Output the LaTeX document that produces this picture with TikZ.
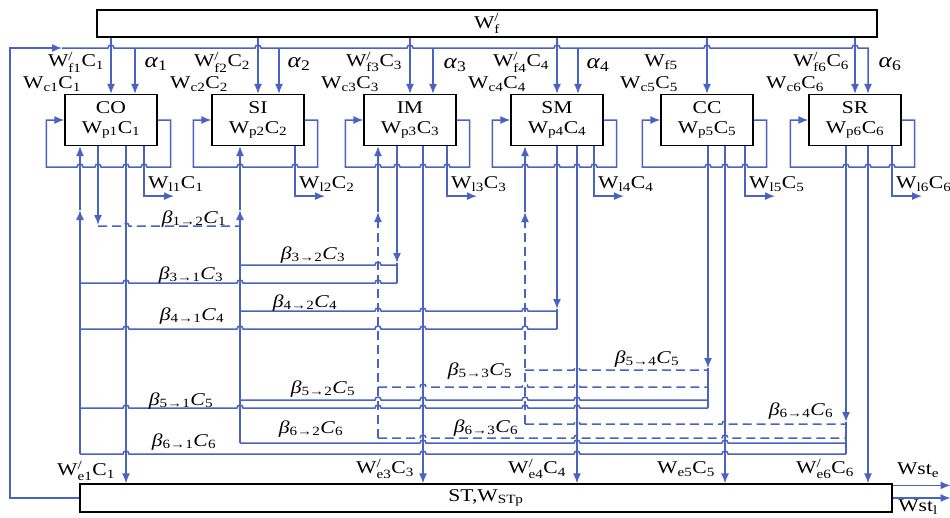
\documentclass[tikz,border=0pt]{standalone}
\usepackage{amsmath}
\usepackage{fontspec}
\setmainfont{Liberation Serif}[FakeStretch=1.2]
\usetikzlibrary{arrows.meta,positioning}
\definecolor{lnblue}{HTML}{4A62C2}
\newcommand{\Wp}[2]{W$_{\text{#1}}^{\text{/}}$C$_{\text{#2}}$}
\newcommand{\Wn}[2]{W$_{\text{#1}}$C$_{\text{#2}}$}
\newcommand{\Bt}[3]{\textit{β}$_{\text{#1→#2}}$\textit{C}$_{\text{#3}}$}
\newcommand{\Al}[1]{\textit{α}$_{\text{#1}}$}

\begin{document}
\begin{tikzpicture}[x=1pt,y=-1pt,
  box/.style={draw,line width=1.2pt,minimum width=92pt,minimum height=51pt,align=center,inner sep=1pt,font=\fontsize{18}{20}\selectfont},
  bar/.style={draw,line width=1.2pt,inner sep=0pt,font=\fontsize{18}{20}\selectfont},
  ln/.style={draw=lnblue,line width=1.5pt},
  arr/.style={ln,-{Latex[length=10pt,width=8pt]}},
  dsh/.style={ln,dash pattern=on 9pt off 5pt},
  lab/.style={inner sep=1pt,font=\fontsize{18}{20}\selectfont},
  alab/.style={inner sep=1pt,font=\fontsize{21}{23}\selectfont},
  blab/.style={inner sep=0pt,anchor=base,font=\fontsize{18}{20}\selectfont}]
  \useasboundingbox (0,0) rectangle (950,517);

  % bars and boxes
  \node[bar,minimum width=780pt,minimum height=27pt] (Wf) at (487,23.5) {W$_{\text{f}}^{\text{/}}$};
  \node[bar,minimum width=812pt,minimum height=28pt] (ST) at (486,498) {ST,W$_{\text{STp}}$};
  \node[box] (CO) at (111,120) {CO\\\Wn{p1}{1}};
  \node[box] (SI) at (258,120) {SI\\\Wn{p2}{2}};
  \node[box] (IM) at (410,120) {IM\\\Wn{p3}{3}};
  \node[box] (SM) at (557,120) {SM\\\Wn{p4}{4}};
  \node[box] (CC) at (707,120) {CC\\\Wn{p5}{5}};
  \node[box] (SR) at (855,120) {SR\\\Wn{p6}{6}};

  % ports
  \path (CO.south) ++(-31,0) coordinate (a1) ++(18,0) coordinate (b1) ++(28,0) coordinate (e1) ++(18,0) coordinate (l1);
  \path (SI.south) ++(-18,0) coordinate (a2) ++(55,0) coordinate (l2);
  \path (IM.south) ++(-32,0) coordinate (a3) ++(19,0) coordinate (b3) ++(26,0) coordinate (e3) ++(24,0) coordinate (l3);
  \path (SM.south) ++(-32,0) coordinate (a4) ++(32,0) coordinate (b4) ++(20,0) coordinate (e4) ++(17,0) coordinate (l4);
  \path (CC.south) ++(1,0) coordinate (b5) ++(17,0) coordinate (e5) ++(20,0) coordinate (l5);
  \path (SR.south) ++(-9,0) coordinate (b6) ++(22,0) coordinate (e6) ++(24,0) coordinate (l6);
  \path (CO.north) ++(24,0) coordinate (al1);
  \path (SI.north) ++(21,0) coordinate (al2);
  \path (IM.north) ++(23,0) coordinate (al3);
  \path (SM.north) ++(21,0) coordinate (al4);
  \path (SR.north) ++(13,0) coordinate (al6);
  \coordinate (fb) at (62,48);

  % feedback bus and inputs
  \draw[arr] (ST.west) -| (10,48) -- (fb);
  \draw[arr] (fb) foreach \h in {111,258,410,557,707,855} {-- (\h-3,48) arc[start angle=180,end angle=0,radius=3pt]} -- (al6 |- fb) -- (al6);
  \foreach \bx in {CO,SI,IM,SM,CC,SR}
    \draw[arr] (\bx.north |- Wf.south) -- (\bx.north);
  \foreach \p in {al1,al2,al3,al4}
    \draw[arr] (\p |- fb) -- (\p);

  % self loops
  \foreach \bx/\hp in {CO/{144,126,98,80},SI/{295,240},IM/{447,423,397,378},SM/{594,577,557,525},CC/{745,725,708},SR/{892,868,846}}
    \draw[arr] (\bx.east) -- ++(13,0) -- ++(0,47)
      foreach \h in \hp {-- (\h+3,167) arc[start angle=0,end angle=180,radius=3pt]}
      -- ([xshift=-18pt,yshift=-47pt]\bx.west) -- ([xshift=-18pt]\bx.west) -- (\bx.west);

  % outputs
  \foreach \p in {e1,e3,e4,e5,e6}
    \draw[arr] (\p) -- (\p |- ST.north);
  \foreach \p in {l1,l2,l3,l4,l5,l6}
    \draw[arr] (\p) |- ++(30,50);
  \draw[arr] ([yshift=-2pt]ST.north east) -- ++(58,0);
  \draw[arr] (ST.east) -- ++(58,0);

  % collectors
  \foreach \p/\yb in {a1/454,a2/443}{
    \draw[arr] (\p |- 0,\yb) -- (\p |- 0,210);
    \draw[arr] (\p |- 0,210) -- (\p);
  }
  \foreach \p/\yb in {a3/438,a4/424}{
    \draw[dsh] (\p |- 0,\yb) -- (\p |- 0,228);
    \draw[arr] (\p |- 0,228) -- (\p |- 0,212);
    \draw[arr] (\p |- 0,212) -- (\p);
  }

  % distribution
  \draw[arr] (b1) -- (b1 |- 0,225);
  \foreach \p/\ya/\yb in {b3/263/283,b4/309/329,b5/368/408,b6/422/454}{
    \draw[arr] (\p) -- (\p |- 0,\ya);
    \draw[ln] (\p |- 0,\ya) -- (\p |- 0,\yb);
  }
  \foreach \p/\q/\y/\hp in {a2/b3/265/{378},a1/b3/283/{126,240,378},
      a2/b4/311/{378,423,525},a1/b4/329/{126,240,378,423,525},
      a2/b5/400/{378,423,525,577},a1/b5/408/{126,240,378,423,525,577},
      a2/b6/443/{423,577,725},a1/b6/454/{126,423,577,725}}
    \draw[ln] (\p |- 0,\y) foreach \h in \hp {-- (\h-3,\y) arc[start angle=180,end angle=0,radius=3pt]} -- (\q |- 0,\y);
  \foreach \p/\q/\y/\hp in {b1/a2/226/{126},a4/b5/370/{577},a3/b5/387/{423,525,577},
      a4/b6/424/{577,725},a3/b6/438/{423,577,725}}
    \draw[dsh] (\p |- 0,\y) foreach \h in \hp {-- (\h-3,\y) arc[start angle=180,end angle=0,radius=3pt]} -- (\q |- 0,\y);

  % labels
  \node[lab] (tf1) at (76,62) {\Wp{f1}{1}};
  \node[lab] (tc1) at (52,84) {\Wn{c1}{1}};
  \node[alab] (ta1) at (156,64) {\Al{1}};
  \node[lab] (tf2) at (222,62) {\Wp{f2}{2}};
  \node[lab] (tc2) at (199,84) {\Wn{c2}{2}};
  \node[alab] (ta2) at (299,64) {\Al{2}};
  \node[lab] (tf3) at (374,62) {\Wp{f3}{3}};
  \node[lab] (tc3) at (350,84) {\Wn{c3}{3}};
  \node[alab] (ta3) at (455,65) {\Al{3}};
  \node[lab] (tf4) at (521,62) {\Wp{f4}{4}};
  \node[lab] (tc4) at (497,84) {\Wn{c4}{4}};
  \node[alab] (ta4) at (598,65) {\Al{4}};
  \node[lab] (tf5) at (661,62) {W$_{\text{f5}}$};
  \node[lab] (tc5) at (649,84) {\Wn{c5}{5}};
  \node[lab] (tf6) at (821,62) {\Wp{f6}{6}};
  \node[lab] (tc6) at (795,84) {\Wn{c6}{6}};
  \node[alab] (ta6) at (890,64) {\Al{6}};

  \node[lab,anchor=west] (tl1) at (147,184) {\Wn{l1}{1}};
  \node[lab,anchor=west] (tl2) at (298,184) {\Wn{l2}{2}};
  \node[lab,anchor=west] (tl3) at (450,184) {\Wn{l3}{3}};
  \node[lab,anchor=west] (tl4) at (597,184) {\Wn{l4}{4}};
  \node[lab,anchor=west] (tl5) at (748,184) {\Wn{l5}{5}};
  \node[lab,anchor=west] (tl6) at (895,184) {\Wn{l6}{6}};

  \node[lab] (te1) at (86,471) {\Wp{e1}{1}};
  \node[lab] (te3) at (385,469) {\Wp{e3}{3}};
  \node[lab] (te4) at (537,469) {\Wp{e4}{4}};
  \node[lab] (te5) at (686,469) {\Wn{e5}{5}};
  \node[lab] (te6) at (825,469) {\Wp{e6}{6}};
  \node[lab] (tse) at (918,470) {Wst$_{\text{e}}$};
  \node[lab] (tsl) at (918,507) {Wst$_{\text{l}}$};

  \node[blab] (tb12) at (194,223) {\Bt{1}{2}{1}};
  \node[blab] (tb31) at (191,279) {\Bt{3}{1}{3}};
  \node[blab] (tb32) at (313,259) {\Bt{3}{2}{3}};
  \node[blab] (tb41) at (192,320) {\Bt{4}{1}{4}};
  \node[blab] (tb42) at (305,307) {\Bt{4}{2}{4}};
  \node[blab] (tb51) at (181,405) {\Bt{5}{1}{5}};
  \node[blab] (tb52) at (323,393) {\Bt{5}{2}{5}};
  \node[blab] (tb53) at (480,375) {\Bt{5}{3}{5}};
  \node[blab] (tb54) at (647,363) {\Bt{5}{4}{5}};
  \node[blab] (tb61) at (184,446) {\Bt{6}{1}{6}};
  \node[blab] (tb62) at (311,433) {\Bt{6}{2}{6}};
  \node[blab] (tb63) at (486,432) {\Bt{6}{3}{6}};
  \node[blab] (tb64) at (801,415) {\Bt{6}{4}{6}};
\end{tikzpicture}
\end{document}
